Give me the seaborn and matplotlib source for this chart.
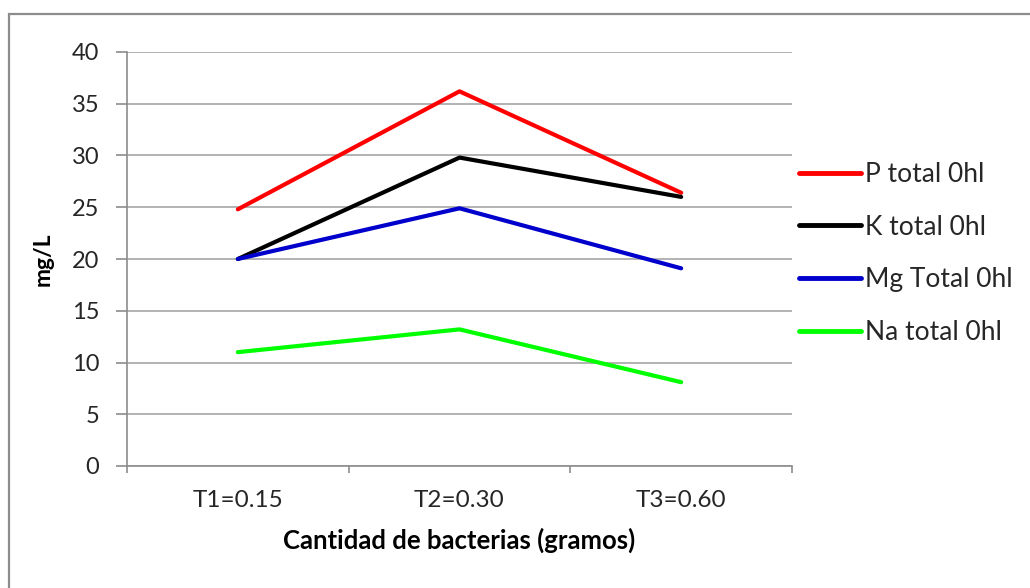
import numpy as np
import pandas as pd
import matplotlib
matplotlib.use("Agg")
import matplotlib.pyplot as plt
import seaborn as sns
from matplotlib.patches import Rectangle

categories = ["T1=0.15", "T2=0.30", "T3=0.60"]
p_total = [24.8, 36.2, 26.4]
k_total = [20.0, 29.8, 26.0]
mg_total = [20.0, 24.9, 19.1]
na_total = [11.0, 13.2, 8.1]
series_names = ["P total 0hl", "K total 0hl", "Mg Total 0hl", "Na total 0hl"]
series_colors = ["#ff0000", "#000000", "#0000cc", "#00ff00"]
y_ticks = [0, 5, 10, 15, 20, 25, 30, 35, 40]

sns.set_theme(style="white")
plt.rcParams["font.family"] = ["Lato", "DejaVu Sans"]

rows = []
for name, vals in zip(series_names, [p_total, k_total, mg_total, na_total]):
    for i, (c, v) in enumerate(zip(categories, vals)):
        rows.append({"pos": i, "cat": c, "value": v, "series": name})
df = pd.DataFrame(rows)

fig = plt.figure(figsize=(10.3, 5.88), dpi=100)
ax = fig.add_axes([127/1030, 1 - 466/588, (792-127)/1030, (466-52)/588])

# outer chart border (cropped at right/bottom in reference)
fig.patches.append(Rectangle((9/1030, -0.05), 1.2, (588-14)/588 + 0.05,
                             transform=fig.transFigure, fill=False,
                             edgecolor="#8c8c8c", linewidth=1.6))

sns.lineplot(data=df, x="pos", y="value", hue="series", hue_order=series_names,
             palette=series_colors, linewidth=3.0, ax=ax, legend=True,
             sort=False)
for line in ax.lines:
    line.set_solid_capstyle("round")

ax.set_xlim(-0.5, 2.5)
ax.set_ylim(0, 40)
ax.set_yticks(y_ticks)
ax.set_yticklabels([str(t) for t in y_ticks])
ax.set_xticks([0, 1, 2])
ax.set_xticklabels(categories)
ax.set_xticks([-0.5, 0.5, 1.5, 2.5], minor=True)

ax.yaxis.grid(True, color="#a6a6a6", linewidth=1.2)
ax.set_axisbelow(True)
for s in ["top", "right"]:
    ax.spines[s].set_visible(False)
for s in ["left", "bottom"]:
    ax.spines[s].set_color("#8c8c8c")
    ax.spines[s].set_linewidth(1.2)

ax.tick_params(axis="y", which="major", length=8, width=1.2, color="#8c8c8c",
               pad=12, labelsize=17, labelcolor="#262626", left=True, direction="out")
ax.tick_params(axis="x", which="major", length=0, pad=17, labelsize=17.5,
               labelcolor="#262626")
ax.tick_params(axis="x", which="minor", length=5, width=1.2, color="#8c8c8c",
               bottom=True, direction="out")

ax.set_xlabel("Cantidad de bacterias (gramos)", fontsize=18.5, fontweight="bold",
              color="#000000", labelpad=12)
ax.set_ylabel("mg/L", fontsize=16.5, fontweight="bold", color="#000000", labelpad=13)

leg = ax.legend(loc="upper left", bbox_to_anchor=(799/1030, 1 - 162/588),
                bbox_transform=fig.transFigure, frameon=False, fontsize=19,
                handlelength=2.35, handletextpad=0.15, labelspacing=1.05,
                borderpad=0, borderaxespad=0)
for h in leg.get_lines():
    h.set_linewidth(3.5)
for t in leg.get_texts():
    t.set_color("#262626")

fig.savefig("out.png", dpi=100, facecolor="white")
